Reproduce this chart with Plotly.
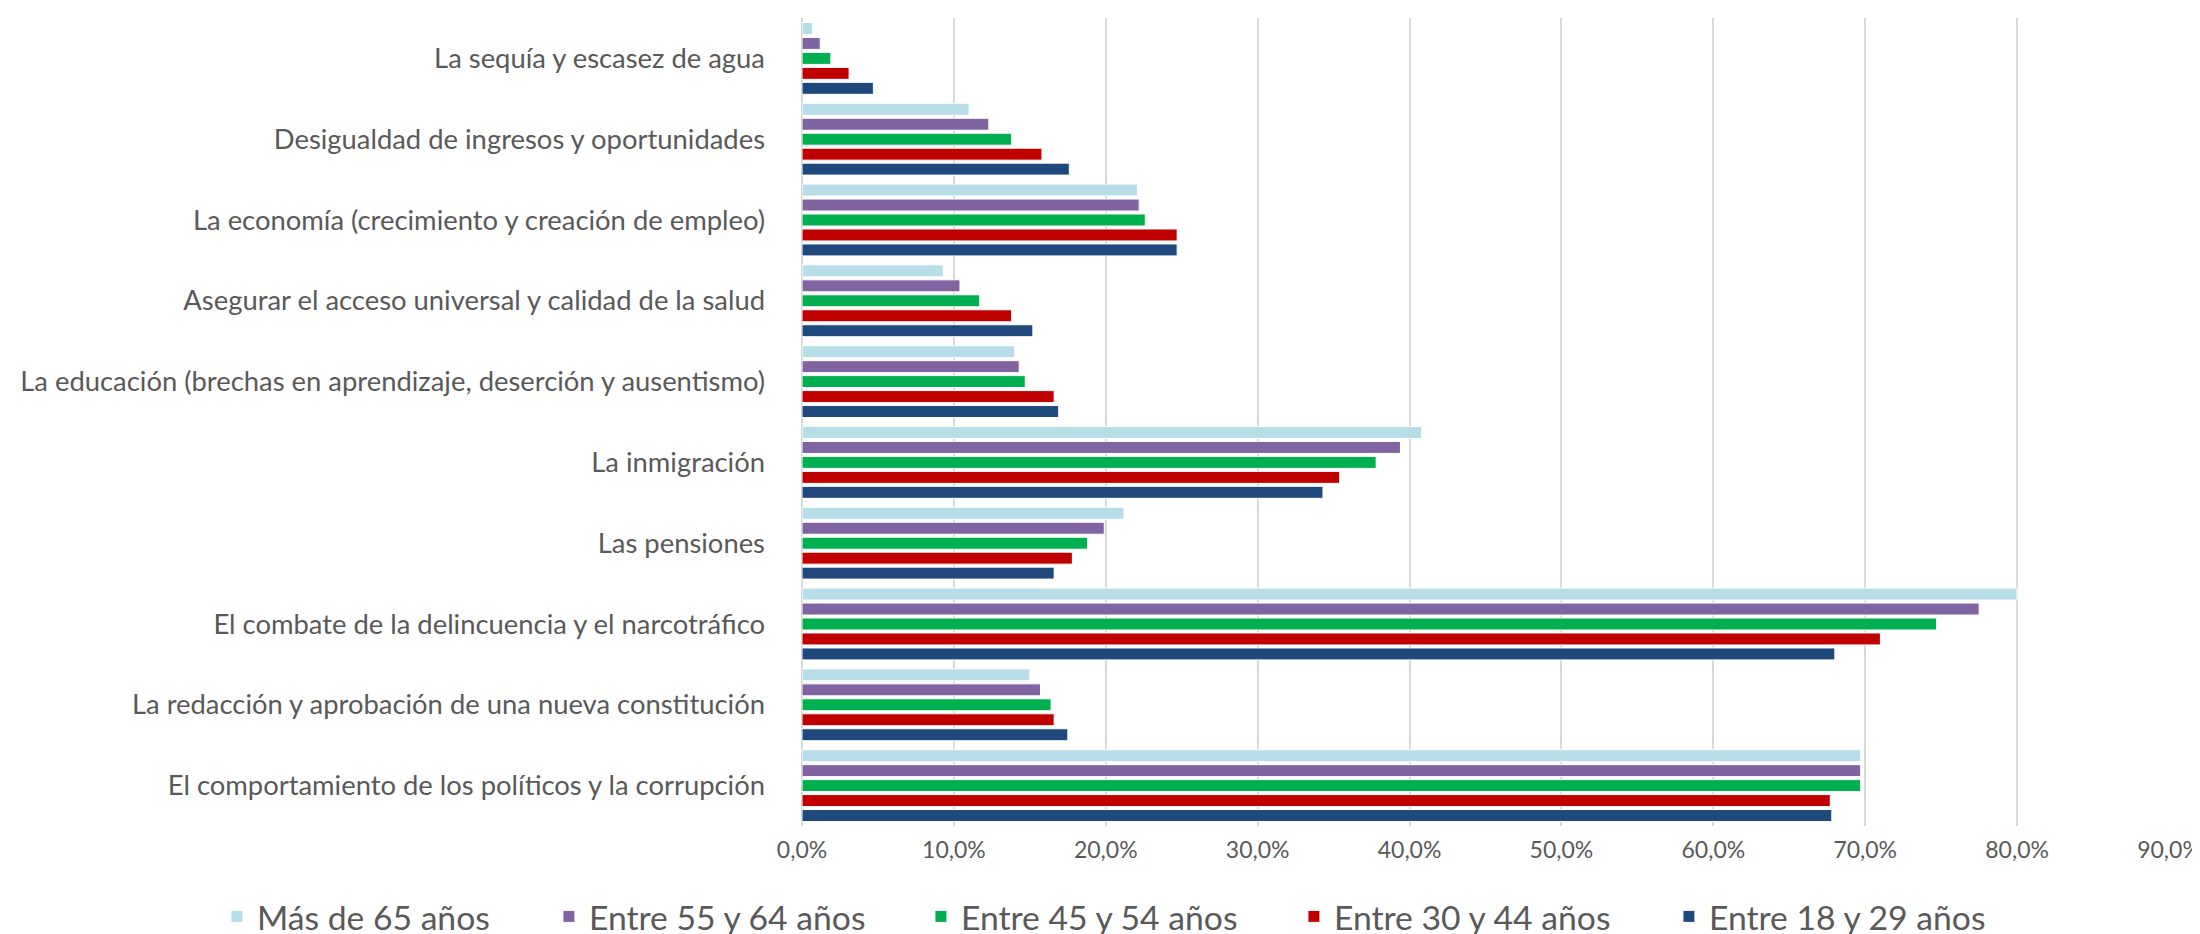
import plotly.graph_objects as go

CATEGORIES = [
    "La sequía y escasez de agua",
    "Desigualdad de ingresos y oportunidades",
    "La economía (crecimiento y creación de empleo)",
    "Asegurar el acceso universal y calidad de la salud",
    "La educación (brechas en aprendizaje, deserción y ausentismo)",
    "La inmigración",
    "Las pensiones",
    "El combate de la delincuencia y el narcotráfico",
    "La redacción y aprobación de una nueva constitución",
    "El comportamiento de los políticos y la corrupción",
]

# percent values, same order as CATEGORIES
MAS_65 = [0.7, 11.0, 22.1, 9.3, 14.0, 40.8, 21.2, 80.0, 15.0, 69.7]
E55_64 = [1.2, 12.3, 22.2, 10.4, 14.3, 39.4, 19.9, 77.5, 15.7, 69.7]
E45_54 = [1.9, 13.8, 22.6, 11.7, 14.7, 37.8, 18.8, 74.7, 16.4, 69.7]
E30_44 = [3.1, 15.8, 24.7, 13.8, 16.6, 35.4, 17.8, 71.0, 16.6, 67.7]
E18_29 = [4.7, 17.6, 24.7, 15.2, 16.9, 34.3, 16.6, 68.0, 17.5, 67.8]

SERIES = [
    ("Más de 65 años", MAS_65, "#B7DEE8"),
    ("Entre 55 y 64 años", E55_64, "#8064A2"),
    ("Entre 45 y 54 años", E45_54, "#00B050"),
    ("Entre 30 y 44 años", E30_44, "#C00000"),
    ("Entre 18 y 29 años", E18_29, "#1F497D"),
]
# legend entry widths (px) so the items spread out like the original
LEGEND_W = [287, 327, 328, 330, 300]

FONT = "Lato, 'Open Sans', sans-serif"
TEXT = "#595959"

fig = go.Figure()
for (name, vals, color), lw in zip(SERIES, LEGEND_W):
    fig.add_trace(go.Bar(
        y=CATEGORIES,
        x=vals,
        name=name,
        orientation="h",
        legendwidth=lw,
        marker=dict(color=color, line=dict(color="white", width=1)),
    ))

fig.update_layout(
    width=2200,
    height=934,
    barmode="group",
    bargap=0.074,
    bargroupgap=0.2,
    paper_bgcolor="white",
    plot_bgcolor="white",
    separators=",.",
    margin=dict(l=794, r=39, t=10, b=116, autoexpand=False),
    font=dict(family=FONT, color=TEXT),
    # legend sits left of/below the plot area so plotly lets it span the full width
    legend=dict(
        orientation="h",
        x=-0.428,
        xanchor="left",
        y=-0.112,
        yanchor="middle",
        font=dict(size=33.7, color=TEXT),
        traceorder="normal",
        itemwidth=30,
    ),
    xaxis=dict(
        range=[0, 90],
        dtick=10,
        tickformat=".1f",
        ticksuffix="%",
        showgrid=True,
        gridcolor="#d9d9d9",
        gridwidth=2,
        zeroline=True,
        zerolinecolor="#d9d9d9",
        zerolinewidth=2,
        tickfont=dict(size=23, color=TEXT),
        ticklabelstandoff=8,
        fixedrange=True,
    ),
    yaxis=dict(
        autorange="reversed",
        showgrid=False,
        tickfont=dict(size=27.4, color=TEXT),
        ticklabelstandoff=36,
        fixedrange=True,
    ),
)

fig.write_html("out.html", config={"displayModeBar": False})
